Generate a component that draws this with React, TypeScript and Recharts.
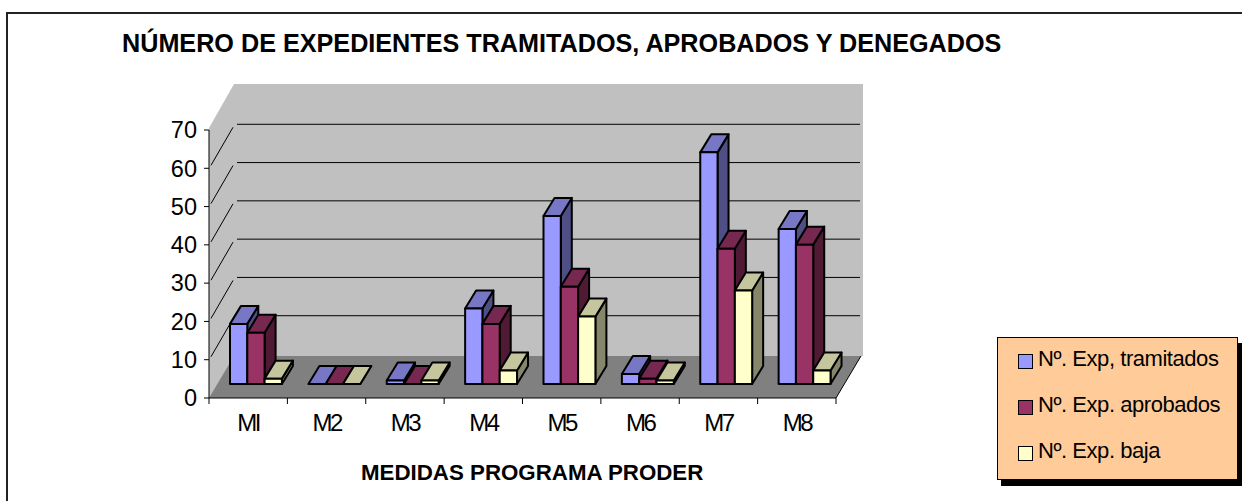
import { Bar, BarChart, CartesianGrid, Legend, XAxis, YAxis } from "recharts";

const CATEGORIES = ["MI", "M2", "M3", "M4", "M5", "M6", "M7", "M8"];
const TRAMITADOS = [15.7, 0, 0.9, 19.7, 43.9, 2.6, 60.5, 40.5];
const APROBADOS = [13.4, 0, 0, 15.7, 25.4, 1.4, 35.3, 36.4];
const BAJA = [1.4, 0, 0.9, 3.5, 17.6, 0.9, 24.4, 3.5];
const Y_TICKS = [0, 10, 20, 30, 40, 50, 60, 70];

const TITLE = "NÚMERO DE EXPEDIENTES TRAMITADOS, APROBADOS Y DENEGADOS";
const X_TITLE = "MEDIDAS PROGRAMA PRODER";
const FONT = '"Liberation Sans", Arial, sans-serif';

const data = CATEGORIES.map((name, i) => ({
  name,
  tramitados: TRAMITADOS[i],
  aprobados: APROBADOS[i],
  baja: BAJA[i],
}));

// plot rectangle of the front face of the 3d box
const LEFT = 209;
const RIGHT = 836;
const TOP = 130;
const BOTTOM = 398;
const BAND = (RIGHT - LEFT) / CATEGORIES.length;

// depth of the box, and of a single bar
const BOX_DX = 25;
const BOX_DY = 44;
const BAR_DX = 11;
const BAR_DY = 18;

function make3dBar(topColor: string, sideColor: string) {
  return function Bar3d(props: any) {
    const { x, y, width, height, fill } = props;
    const left = x + 8;
    const right = left + width;
    const top = y - 14;
    const bottom = top + height;
    const line = { stroke: "#000", strokeWidth: 2, strokeLinejoin: "round" as const };
    return (
      <g>
        <polygon
          points={`${right},${top} ${right + BAR_DX},${top - BAR_DY} ${right + BAR_DX},${bottom - BAR_DY} ${right},${bottom}`}
          fill={sideColor}
          {...line}
        />
        <polygon
          points={`${left},${top} ${left + BAR_DX},${top - BAR_DY} ${right + BAR_DX},${top - BAR_DY} ${right},${top}`}
          fill={topColor}
          {...line}
        />
        <rect x={left} y={top} width={width} height={height} fill={fill} {...line} />
      </g>
    );
  };
}

// back wall, side wall and floor sit behind the transparent chart
function Walls() {
  return (
    <svg width={1242} height={501} style={{ position: "absolute", left: 0, top: 0 }}>
      <polygon
        points={`${LEFT},${TOP - 2} ${LEFT + BOX_DX},84 ${RIGHT + 27},84 ${RIGHT + 27},${BOTTOM - 42} ${LEFT},${BOTTOM}`}
        fill="#c0c0c0"
      />
      <polygon
        points={`${LEFT},${BOTTOM} ${RIGHT},${BOTTOM} ${RIGHT + 25},${BOTTOM - 42} ${LEFT + BOX_DX},${BOTTOM - 42}`}
        fill="#808080"
      />
      <line x1={RIGHT} y1={BOTTOM} x2={RIGHT + 25} y2={BOTTOM - 42} stroke="#000" strokeWidth={1} />
    </svg>
  );
}

function GridLine(props: any) {
  const { y1 } = props;
  if (y1 <= TOP + 1 || y1 >= BOTTOM - 1) return <g />;
  return (
    <g stroke="#000" strokeWidth={1}>
      <line x1={LEFT + 2} y1={y1 - 3} x2={LEFT + 24} y2={y1 - 41} />
      <line x1={LEFT + 28} y1={y1 - BOX_DY} x2={RIGHT + 24} y2={y1 - BOX_DY} />
    </g>
  );
}

function CategoryTick(props: any) {
  const { x, y, payload, index } = props;
  const tickY = BOTTOM;
  return (
    <g>
      {index === 0 && <line x1={LEFT} y1={tickY} x2={LEFT} y2={tickY + 6} stroke="#000" />}
      <line x1={x + BAND / 2} y1={tickY} x2={x + BAND / 2} y2={tickY + 6} stroke="#000" />
      <text x={x} y={y + 4} textAnchor="middle" dominantBaseline="central" fontFamily={FONT} fontSize={24} letterSpacing={-2.5} fill="#000">
        {payload.value}
      </text>
    </g>
  );
}

function LegendBox(props: any) {
  const { payload } = props;
  return (
    <div
      style={{
        width: 241,
        height: 143,
        boxSizing: "border-box",
        background: "#ffcc99",
        border: "1px solid #000",
        boxShadow: "4px 6px 0 #000",
        fontFamily: FONT,
        fontSize: 22,
        letterSpacing: -0.45,
        color: "#000",
      }}
    >
      {payload.map((entry: any, i: number) => (
        <div key={entry.value} style={{ display: "flex", alignItems: "center", height: 46, paddingLeft: 20, marginTop: i === 0 ? -2 : 0 }}>
          <span
            style={{
              display: "inline-block",
              width: 13,
              height: 13,
              marginRight: 5,
              marginTop: 4,
              background: entry.color,
              border: "1.5px solid #000",
            }}
          />
          {entry.value}
        </div>
      ))}
    </div>
  );
}

export default function App() {
  return (
    <div style={{ position: "absolute", left: 0, top: 0, width: 1242, height: 501, background: "#fff", overflow: "hidden" }}>
      <div style={{ position: "absolute", left: 6, top: 12, width: 1236, height: 489, borderLeft: "2px solid #222", borderTop: "2px solid #222" }} />
      <div style={{ position: "absolute", left: 122, top: 29, fontFamily: FONT, fontWeight: 700, fontSize: 25.2, color: "#000", whiteSpace: "nowrap" }}>
        {TITLE}
      </div>
      <div style={{ position: "absolute", left: 361, top: 460, fontFamily: FONT, fontWeight: 700, fontSize: 22.3, color: "#000", whiteSpace: "nowrap" }}>
        {X_TITLE}
      </div>
      <Walls />
      <BarChart
        width={1242}
        height={501}
        data={data}
        margin={{ left: 169, right: 406, top: 130, bottom: 73 }}
        barGap={0}
        barSize={17.3}
        style={{ position: "absolute", left: 0, top: 0 }}
      >
        <CartesianGrid vertical={false} horizontal={GridLine} />
        <XAxis dataKey="name" height={30} stroke="#000" tickLine={false} tick={CategoryTick} interval={0} tickMargin={14} />
        <YAxis
          width={40}
          domain={[0, 70]}
          ticks={Y_TICKS}
          interval={0}
          stroke="#000"
          tickSize={5}
          tickMargin={7}
          tick={{ fontFamily: FONT, fontSize: 23.5, fill: "#000" }}
        />
        <Legend
          layout="vertical"
          align="center"
          verticalAlign="middle"
          content={LegendBox}
          wrapperStyle={{ left: 997, top: 337, width: 241, height: 143 }}
        />
        <Bar dataKey="tramitados" name="Nº. Exp, tramitados" fill="#9999ff" isAnimationActive={false} shape={make3dBar("#7777c6", "#4f4f86")} />
        <Bar dataKey="aprobados" name="Nº. Exp. aprobados" fill="#993366" isAnimationActive={false} shape={make3dBar("#772850", "#501a35")} />
        <Bar dataKey="baja" name="Nº. Exp. baja" fill="#ffffcc" isAnimationActive={false} shape={make3dBar("#c6c69e", "#86866b")} />
      </BarChart>
    </div>
  );
}
